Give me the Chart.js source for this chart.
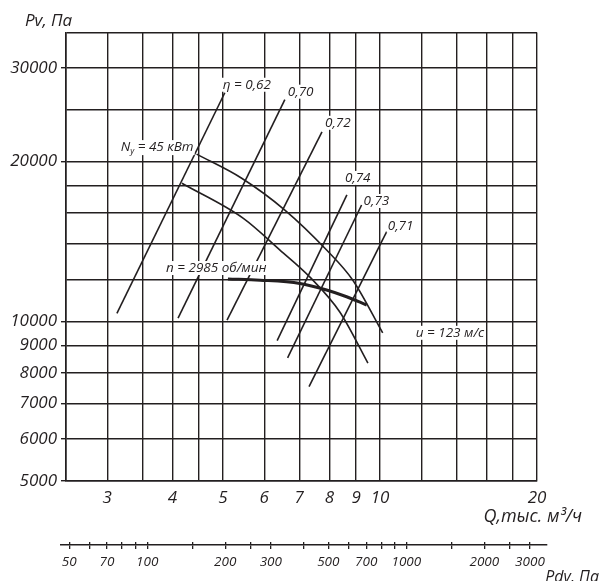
<!DOCTYPE html>
<html>
<head>
<meta charset="utf-8">
<script src="https://cdn.jsdelivr.net/npm/chart.js@4.4.0/dist/chart.umd.min.js"></script>
<style>
  body { margin: 0; background: #fff; }
  #wrap { position: relative; width: 601px; height: 581px; }
  #wrap canvas { position: absolute; left: 0; }
  #main { top: 0; }
  #pdv { top: 521px; }
</style>
</head>
<body>
<div id="wrap">
  <canvas id="main" width="601" height="581"></canvas>
  <canvas id="pdv" width="601" height="60"></canvas>
</div>
<script>
// сетка и подписи осей
const qGrid = [2.5, 3, 3.5, 4, 4.5, 5, 6, 7, 8, 9, 10, 12, 14, 16, 18, 20];
const qLabels = [3, 4, 5, 6, 7, 8, 9, 10, 20];
const pGrid = [5000, 6000, 7000, 8000, 9000, 10000, 12000, 14000, 16000, 18000, 20000, 25000, 30000, 35000];
const pLabels = [5000, 6000, 7000, 8000, 9000, 10000, 20000, 30000];
const pdvTicks = [50, 60, 70, 80, 90, 100, 150, 200, 250, 300, 400, 500, 600, 700, 800, 900, 1000, 1500, 2000, 2500, 3000];
const pdvLabels = [50, 70, 100, 200, 300, 500, 700, 1000, 2000, 3000];

// кривая u = 123 м/с (начинается от N_y)
const uQ = [4.45, 5.43, 6.57, 7.90, 8.87, 10.12];
const uP = [20650, 18600, 16200, 13620, 11950, 9510];
// нижняя тонкая кривая
const lowQ = [4.17, 5.47, 6.43, 7.34, 8.38, 9.48];
const lowP = [18200, 15630, 13620, 12110, 10400, 8340];
// n = 2985 об/мин (жирная)
const nQ = [5.11, 5.89, 7.02, 7.90, 8.63, 9.43];
const nP = [12010, 11950, 11780, 11450, 11120, 10730];

// линии КПД
const etaNames = ['η = 0,62', '0,70', '0,72', '0,74', '0,73', '0,71'];
const etaQ = [[3.13, 5.04], [4.10, 6.57], [5.09, 7.74], [6.35, 8.64], [6.65, 9.22], [7.31, 10.30]];
const etaP = [[10350, 26950], [10140, 26150], [10050, 22750], [9190, 17300], [8530, 16560], [7530, 14750]];

const ink = '#231f20';
const italic = (s) => 'italic ' + s + 'px "Open Sans", sans-serif';

function pts(qs, ps) { return qs.map((q, i) => ({x: q, y: ps[i]})); }

let datasets = [
  {data: pts(uQ, uP), borderWidth: 1.6, cubicInterpolationMode: 'monotone'},
  {data: pts(lowQ, lowP), borderWidth: 1.6, cubicInterpolationMode: 'monotone'},
  {data: pts(nQ, nP), borderWidth: 3, cubicInterpolationMode: 'monotone'}
];
etaQ.forEach((qs, i) => datasets.push({data: pts(qs, etaP[i]), borderWidth: 1.6}));
datasets.forEach(d => { d.borderColor = ink; d.pointRadius = 0; d.fill = false; });

function label(ctx, text, x, y, align) {
  ctx.textAlign = align || 'left';
  let w = ctx.measureText(text).width;
  let x0 = align === 'right' ? x - w : x;
  ctx.fillStyle = '#fff';
  ctx.fillRect(x0 - 1, y - 7, w + 2, 14);
  ctx.fillStyle = ink;
  ctx.fillText(text, x, y);
}

const etaOff = [[-2, -8], [3, -8], [3, -9], [-2, -17], [2, -4], [1, -6]];
const fs = 13.5;

let notes = {
  id: 'notes',
  afterDatasetsDraw(chart) {
    let {ctx, chartArea} = chart;
    let x = chart.scales.x, y = chart.scales.y;
    ctx.save();
    ctx.textBaseline = 'middle';
    ctx.font = italic(fs);
    etaNames.forEach((t, i) => {
      label(ctx, t, x.getPixelForValue(etaQ[i][1]) + etaOff[i][0], y.getPixelForValue(etaP[i][1]) + etaOff[i][1]);
    });
    // N_y = 45 кВт
    let sx = x.getPixelForValue(uQ[0]) - 3, sy = y.getPixelForValue(uP[0]) - 7;
    let rest = ' = 45 кВт';
    let wRest = ctx.measureText(rest).width;
    ctx.font = italic(8.5);
    let wSub = ctx.measureText('у').width;
    ctx.font = italic(fs);
    let wN = ctx.measureText('N').width;
    let x0 = sx - wRest - wSub - wN;
    ctx.fillStyle = '#fff';
    ctx.fillRect(x0 - 1, sy - 7, sx - x0 + 2, 15);
    ctx.fillStyle = ink;
    ctx.textAlign = 'left';
    ctx.fillText('N', x0, sy);
    ctx.fillText(rest, x0 + wN + wSub, sy);
    ctx.font = italic(8.5);
    ctx.fillText('у', x0 + wN, sy + 4);
    ctx.font = italic(fs);
    label(ctx, 'n = 2985 об/мин', x.getPixelForValue(nQ[0]) - 62, y.getPixelForValue(nP[0]) - 11);
    label(ctx, 'u = 123 м/с', x.getPixelForValue(uQ[uQ.length - 1]) + 33, y.getPixelForValue(uP[uP.length - 1]));
    // заголовки осей
    ctx.font = italic(17);
    ctx.textAlign = 'left';
    ctx.fillText('Pv, Па', chartArea.left - 41, 21);
    ctx.font = italic(18);
    ctx.textAlign = 'right';
    ctx.fillText('Q,тыс. м³/ч', 582, 517);
    ctx.restore();
  }
};

new Chart(document.getElementById('main'), {
  type: 'line',
  data: {datasets: datasets},
  options: {
    responsive: false,
    animation: false,
    events: [],
    layout: {padding: {left: 0, top: 32.5, right: 64, bottom: 0}},
    plugins: {legend: {display: false}, tooltip: {enabled: false}},
    scales: {
      x: {
        type: 'logarithmic', min: 2.5, max: 20,
        afterBuildTicks: (s) => { s.ticks = qGrid.map(v => ({value: v})); },
        afterFit: (s) => { s.height = 100; },
        grid: {color: ink, lineWidth: 1.4, drawTicks: false},
        border: {color: ink, width: 1.6},
        ticks: {
          autoSkip: false, maxRotation: 0, padding: 7, color: ink,
          font: {family: '"Open Sans", sans-serif', style: 'italic', size: 17},
          callback: (v) => qLabels.includes(v) ? String(v) : ''
        }
      },
      y: {
        type: 'logarithmic', min: 5000, max: 35000,
        afterBuildTicks: (s) => { s.ticks = pGrid.map(v => ({value: v})); },
        afterFit: (s) => { s.width = 66; },
        grid: {
          color: ink, lineWidth: 1.4, tickLength: 5,
          tickColor: (c) => (c.tick && pLabels.includes(c.tick.value)) ? ink : 'rgba(0,0,0,0)'
        },
        border: {color: ink, width: 1.6},
        ticks: {
          autoSkip: false, padding: 4, color: ink,
          font: {family: '"Open Sans", sans-serif', style: 'italic', size: 17},
          callback: (v) => pLabels.includes(v) ? String(v) : ''
        }
      }
    }
  },
  plugins: [notes]
});

// шкала динамического давления
let pdvTitle = {
  id: 'pdvTitle',
  afterDraw(chart) {
    let ctx = chart.ctx;
    ctx.save();
    ctx.font = italic(16);
    ctx.fillStyle = ink;
    ctx.textAlign = 'right';
    ctx.textBaseline = 'middle';
    ctx.fillText('Pdv, Па', 599, 56);
    ctx.restore();
  }
};

new Chart(document.getElementById('pdv'), {
  type: 'line',
  data: {datasets: []},
  options: {
    responsive: false,
    animation: false,
    events: [],
    layout: {padding: {left: 61, top: 21, right: 54, bottom: 0}},
    plugins: {legend: {display: false}, tooltip: {enabled: false}},
    scales: {
      x: {
        type: 'logarithmic', min: 46.5, max: 3490,
        afterBuildTicks: (s) => { s.ticks = pdvTicks.map(v => ({value: v})); },
        afterFit: (s) => { s.height = 36; },
        grid: {color: ink, lineWidth: 1.3, tickLength: 4},
        border: {color: ink, width: 1.4},
        ticks: {
          autoSkip: false, maxRotation: 0, padding: 5, color: ink,
          font: {family: '"Open Sans", sans-serif', style: 'italic', size: 13.5},
          callback: (v) => pdvLabels.includes(v) ? String(v) : ''
        }
      },
      y: {display: false, min: 0, max: 1}
    }
  },
  plugins: [pdvTitle]
});
</script>
</body>
</html>
